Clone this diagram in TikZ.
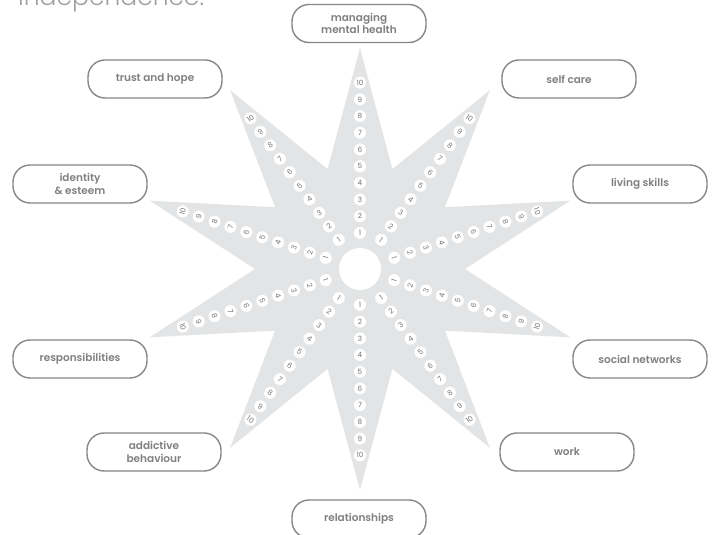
\documentclass[tikz,border=0pt]{standalone}
\usepackage{fontspec}
\setmainfont{Poppins}
\newfontfamily\labelfont{Poppins SemiBold}
\newfontfamily\titlefont{Poppins Light}
\definecolor{starfill}{RGB}{227,228,229}
\definecolor{boxline}{RGB}{135,135,135}
\definecolor{boxtext}{RGB}{128,128,128}
\definecolor{numtext}{RGB}{115,115,115}
\definecolor{titlegray}{RGB}{160,160,160}
\begin{document}
\begin{tikzpicture}[x=1pt,y=1pt,
  labelbox/.style={draw=boxline, line width=1.4pt, rounded corners=17pt,
    minimum width=134pt, minimum height=38pt, inner sep=0pt, align=center,
    text=boxtext, font=\labelfont\fontsize{10.5}{12.5}\selectfont},
  numdot/.style={circle, fill=white, minimum size=12pt, inner sep=0pt,
    text=numtext, font=\fontsize{7.2}{7.2}\selectfont}]
\clip (0,0) rectangle (713,535);
\fill[white] (0,0) rectangle (713,535);
\node[anchor=base west, inner sep=0pt, text=titlegray,
  font=\titlefont\fontsize{25}{25}\selectfont] (title) at (18,529) {independence.};
\coordinate (C) at (360,266);
\begin{scope}[shift={(C)}]
  \fill[starfill] (90:221) \foreach \k in {0,...,9}{ -- ({108+36*\k}:105) -- ({126+36*\k}:221)} -- cycle;
\end{scope}
\node[circle, fill=white, minimum size=42pt, inner sep=0pt] (hub) at (C) {};
\foreach \k in {0,...,9}{
  \pgfmathsetmacro\th{90+36*\k}
  \pgfmathsetmacro\rot{ifthenelse(sin(\th)>=-0.001, \th-90, \th-270)}
  \foreach \i in {1,...,10}{
    \pgfmathsetmacro\rr{36+16.7*(\i-1)}
    \path (C) ++(\th:\rr) node[numdot, rotate=\rot] (d\k-\i) {\i};
  }
}
\node[labelbox] (l0) at (359,511.5) {managing\\mental health};
\node[labelbox] (l1) at (155,456) {trust and hope};
\node[labelbox] (l9) at (569,456) {self care};
\node[labelbox] (l2) at (80,351) {identity\\\& esteem};
\node[labelbox] (l8) at (640,351) {living skills};
\node[labelbox] (l3) at (80,176) {responsibilities};
\node[labelbox] (l7) at (640,176) {social networks};
\node[labelbox] (l4) at (154,83) {addictive\\behaviour};
\node[labelbox] (l6) at (567,83) {work};
\node[labelbox] (l5) at (359,16) {relationships};
\end{tikzpicture}
\end{document}
